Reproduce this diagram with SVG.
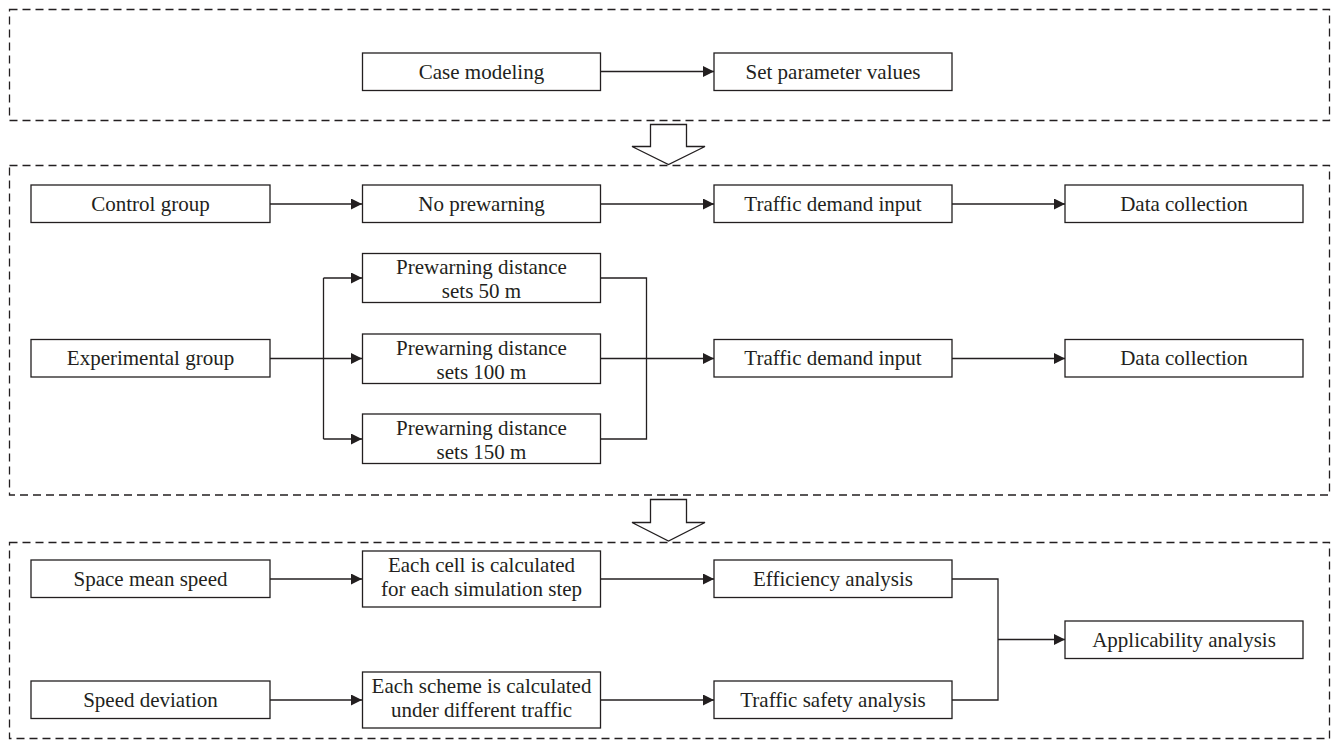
<svg xmlns="http://www.w3.org/2000/svg" width="1331" height="740" viewBox="0 0 1331 740">
<style>
.frame{fill:none;stroke:#231f20;stroke-width:1.3;stroke-dasharray:8 5}
.box{fill:#fff;stroke:#231f20;stroke-width:1.3}
.ln{fill:none;stroke:#231f20;stroke-width:1.3}
.ar{fill:none;stroke:#231f20;stroke-width:1.3;marker-end:url(#ah)}
.big{fill:#fff;stroke:#231f20;stroke-width:1.3;stroke-linejoin:miter}
text{font-family:"Liberation Serif","Times New Roman",serif;font-size:21px;fill:#231f20;text-anchor:middle}
</style>
<defs>
<marker id="ah" markerUnits="userSpaceOnUse" markerWidth="12" markerHeight="12" refX="11" refY="5.5" orient="auto">
<path d="M0,0 L11,5.5 L0,11 z" fill="#231f20"/>
</marker>
</defs>
<rect width="1331" height="740" fill="#fff"/>
<g id="frames">
<rect class="frame" x="9.5" y="9.5" width="1320" height="111"/>
<rect class="frame" x="9.5" y="165.5" width="1320" height="329.5"/>
<rect class="frame" x="9.5" y="542.5" width="1320" height="196"/>
</g>
<g id="stage-arrows">
<polygon class="big" points="650.5,124.5 686.5,124.5 686.5,146.5 705,146.5 668.5,164.5 632,146.5 650.5,146.5"/>
<polygon class="big" points="650.5,499.5 686.5,499.5 686.5,522.5 705,522.5 668.5,541 632,522.5 650.5,522.5"/>
</g>
<g id="connectors">
<line class="ar" x1="600" y1="71.5" x2="714" y2="71.5"/>
<line class="ar" x1="270" y1="204" x2="362" y2="204"/>
<line class="ar" x1="600" y1="204" x2="714" y2="204"/>
<line class="ar" x1="952" y1="204" x2="1065" y2="204"/>
<line class="ar" x1="270" y1="358.5" x2="362" y2="358.5"/>
<polyline class="ln" points="323.5,278 323.5,439"/>
<line class="ar" x1="323.5" y1="278" x2="362" y2="278"/>
<line class="ar" x1="323.5" y1="439" x2="362" y2="439"/>
<polyline class="ln" points="600,278 646.5,278 646.5,439 600,439"/>
<line class="ar" x1="600" y1="358.5" x2="714" y2="358.5"/>
<line class="ar" x1="952" y1="358.5" x2="1065" y2="358.5"/>
<line class="ar" x1="270" y1="579" x2="362" y2="579"/>
<line class="ar" x1="600" y1="579" x2="714" y2="579"/>
<line class="ar" x1="270" y1="700" x2="362" y2="700"/>
<line class="ar" x1="600" y1="700" x2="714" y2="700"/>
<polyline class="ln" points="952,579 998,579 998,700 952,700"/>
<line class="ar" x1="998" y1="639.5" x2="1065" y2="639.5"/>
</g>
<g id="n-case"><rect class="box" x="362.5" y="53" width="238" height="37.5"/><text x="481.5" y="78.5">Case modeling</text></g>
<g id="n-setparam"><rect class="box" x="714" y="53" width="238" height="37.5"/><text x="833" y="78.5">Set parameter values</text></g>
<g id="n-control"><rect class="box" x="31" y="185" width="239" height="37.5"/><text x="150.5" y="210.5">Control group</text></g>
<g id="n-noprew"><rect class="box" x="362.5" y="185" width="238" height="37.5"/><text x="481.5" y="210.5">No prewarning</text></g>
<g id="n-tdi1"><rect class="box" x="714" y="185" width="238" height="37.5"/><text x="833" y="210.5">Traffic demand input</text></g>
<g id="n-dc1"><rect class="box" x="1065" y="185" width="238" height="37.5"/><text x="1184" y="210.5">Data collection</text></g>
<g id="n-exp"><rect class="box" x="31" y="339.5" width="239" height="37.5"/><text x="150.5" y="365">Experimental group</text></g>
<g id="n-p50"><rect class="box" x="362.5" y="253.5" width="238" height="49"/><text x="481.5" y="274"><tspan x="481.5">Prewarning distance</tspan><tspan x="481.5" dy="24">sets 50 m</tspan></text></g>
<g id="n-p100"><rect class="box" x="362.5" y="334" width="238" height="49.5"/><text x="481.5" y="354.5"><tspan x="481.5">Prewarning distance</tspan><tspan x="481.5" dy="24">sets 100 m</tspan></text></g>
<g id="n-p150"><rect class="box" x="362.5" y="414" width="238" height="49.5"/><text x="481.5" y="434.5"><tspan x="481.5">Prewarning distance</tspan><tspan x="481.5" dy="24">sets 150 m</tspan></text></g>
<g id="n-tdi2"><rect class="box" x="714" y="339.5" width="238" height="37.5"/><text x="833" y="365">Traffic demand input</text></g>
<g id="n-dc2"><rect class="box" x="1065" y="339.5" width="238" height="37.5"/><text x="1184" y="365">Data collection</text></g>
<g id="n-sms"><rect class="box" x="31" y="560" width="239" height="37.5"/><text x="150.5" y="585.5">Space mean speed</text></g>
<g id="n-cell"><rect class="box" x="362.5" y="551" width="238" height="56"/><text x="481.5" y="571.5"><tspan x="481.5">Each cell is calculated</tspan><tspan x="481.5" dy="24">for each simulation step</tspan></text></g>
<g id="n-eff"><rect class="box" x="714" y="560" width="238" height="37.5"/><text x="833" y="585.5">Efficiency analysis</text></g>
<g id="n-sd"><rect class="box" x="31" y="681" width="239" height="37.5"/><text x="150.5" y="706.5">Speed deviation</text></g>
<g id="n-scheme"><rect class="box" x="362.5" y="672" width="238" height="56"/><text x="481.5" y="692.5"><tspan x="481.5">Each scheme is calculated</tspan><tspan x="481.5" dy="24">under different traffic</tspan></text></g>
<g id="n-safety"><rect class="box" x="714" y="681" width="238" height="37.5"/><text x="833" y="706.5">Traffic safety analysis</text></g>
<g id="n-app"><rect class="box" x="1065" y="621" width="238" height="37.5"/><text x="1184" y="646.5">Applicability analysis</text></g>
</svg>
